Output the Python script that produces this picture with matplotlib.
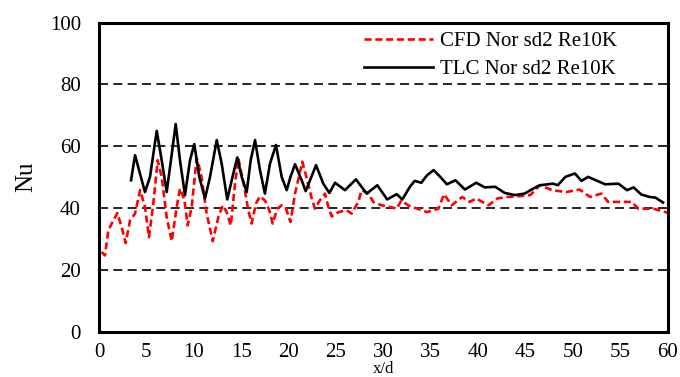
import matplotlib.pyplot as plt

# --- Data ---
x_cfd = [0.28, 0.63, 0.98, 1.34, 1.93, 2.39, 2.81, 3.27, 3.8, 4.33, 4.85, 5.27, 5.73,
         6.19, 6.61, 7.14, 7.67, 8.2, 8.54, 9.0, 9.35, 9.78, 10.3, 10.76, 11.36, 12.0,
         12.59, 13.05, 13.47, 13.9, 14.35, 14.7, 15.22, 15.75, 16.1, 16.56, 16.98, 17.5,
         17.97, 18.32, 18.8, 19.27, 19.73, 20.2, 20.68, 21.45, 21.97, 22.4, 22.78, 23.3,
         23.84, 24.19, 24.55, 25.25, 26.13, 26.65, 27.35, 27.7, 28.4, 28.94, 29.8, 30.7,
         31.4, 31.9, 32.6, 33.4, 34.6, 35.8, 36.4, 37.2, 38.3, 39.1, 39.8, 41.1, 42.0,
         43.0, 44.1, 45.5, 46.5, 47.8, 49.3, 50.7, 51.8, 53.0, 53.7, 55.3, 56.2, 56.9,
         58.5, 60.0]
nu_cfd = [25.8, 24.7, 32.8, 35.0, 38.4, 33.9, 28.7, 36.0, 38.2, 45.8, 40.4, 30.6, 41.5,
          55.5, 50.1, 37.1, 29.3, 40.4, 46.3, 42.8, 34.4, 40.4, 56.1, 51.2, 38.2, 29.3,
          37.1, 40.9, 38.7, 34.4, 47.9, 56.1, 48.5, 39.3, 35.0, 41.5, 43.8, 42.5, 39.3,
          35.0, 39.8, 40.9, 39.8, 35.5, 44.7, 55.0, 49.0, 43.6, 39.8, 42.5, 44.7, 40.4,
          37.3, 38.7, 39.3, 38.2, 42.0, 45.8, 44.7, 42.0, 40.9, 40.4, 39.8, 42.5, 40.9,
          40.0, 38.7, 39.8, 44.5, 40.9, 43.6, 42.0, 43.1, 40.9, 43.1, 43.6, 43.8, 44.2,
          47.4, 45.8, 45.2, 46.0, 43.6, 44.7, 42.0, 42.0, 42.0, 39.8, 39.8, 38.5]

x_tlc = [3.38, 3.8, 4.32, 4.85, 5.38, 6.09, 6.61, 7.14, 7.59, 8.09, 8.54, 9.07, 9.6,
         10.05, 10.58, 11.18, 11.71, 12.42, 12.94, 13.53, 14.17, 14.59, 15.05, 15.58,
         16.0, 16.46, 16.98, 17.5, 18.04, 18.67, 19.27, 19.8, 20.2, 20.68, 21.38, 21.8,
         22.26, 22.9, 23.66, 24.3, 24.9, 25.95, 27.1, 28.24, 29.36, 30.4, 31.4, 32.0,
         32.8, 33.3, 34.0, 34.6, 35.3, 36.0, 36.7, 37.6, 38.6, 39.8, 40.7, 41.8, 42.8,
         43.9, 44.9, 45.8, 46.5, 47.9, 48.4, 49.2, 50.2, 50.9, 51.6, 52.8, 53.4, 54.8,
         55.7, 56.4, 57.2, 58.1, 58.7, 59.5]
nu_tlc = [49.0, 57.1, 51.2, 45.2, 50.1, 65.0, 55.5, 45.2, 55.5, 67.2, 55.5, 44.2, 55.5,
          60.7, 50.1, 43.1, 50.1, 62.0, 54.4, 42.8, 51.2, 56.4, 50.1, 45.2, 55.5, 62.0,
          52.3, 44.7, 54.4, 60.4, 50.1, 45.8, 50.1, 54.2, 49.0, 45.5, 49.0, 53.9, 47.9,
          44.9, 48.2, 45.8, 49.3, 44.7, 47.4, 42.8, 44.5, 42.8, 46.9, 48.8, 48.2, 50.6,
          52.3, 50.1, 47.7, 49.0, 46.0, 48.2, 46.7, 46.9, 44.9, 44.2, 44.7, 46.3, 47.4,
          47.9, 47.4, 50.1, 51.2, 48.8, 50.1, 48.5, 47.7, 47.9, 45.8, 46.7, 44.4, 43.6,
          43.4, 41.8]

x_ticks = [0, 5, 10, 15, 20, 25, 30, 35, 40, 45, 50, 55, 60]
y_ticks = [0, 20, 40, 60, 80, 100]

plt.rcParams['font.family'] = ['Liberation Serif', 'DejaVu Serif']

fig = plt.figure(figsize=(6.8, 3.77), dpi=100)
ax = fig.add_axes([0.1456, 0.12, 0.8364, 0.82])

ax.plot(x_cfd, nu_cfd, color='red', linestyle=(0, (2.7, 1.4)), linewidth=1.9,
        solid_joinstyle='round', label='CFD Nor sd2 Re10K')
ax.plot(x_tlc, nu_tlc, color='black', linestyle='-', linewidth=1.9,
        solid_joinstyle='round', label='TLC Nor sd2 Re10K')

ax.set_xlim(0, 60)
ax.set_ylim(0, 100)
ax.set_xticks(x_ticks)
ax.set_yticks(y_ticks)
ax.tick_params(axis='x', length=0, labelsize=15, pad=8)
ax.tick_params(axis='y', length=0, labelsize=15, pad=13)

# horizontal dashed grid only
ax.yaxis.grid(True, color='black', linestyle=(0, (5.4, 3.2)), linewidth=1.2)
ax.set_axisbelow(True)
for s in ax.spines.values():
    s.set_linewidth(2.2)
    s.set_color('black')

ax.set_ylabel('Nu', fontsize=18)
ax.yaxis.set_label_coords(-0.108, 0.5)
ax.set_xlabel('x/d', fontsize=12)
ax.xaxis.set_label_coords(0.5, -0.094)
ax.xaxis.label.set_verticalalignment('top')

ax.legend(loc='upper right', bbox_to_anchor=(0.94, 1.025), frameon=False, fontsize=15,
          handlelength=3.3, handletextpad=0.35, labelspacing=0.42, borderpad=0.3)

fig.savefig('out.png', dpi=100)
